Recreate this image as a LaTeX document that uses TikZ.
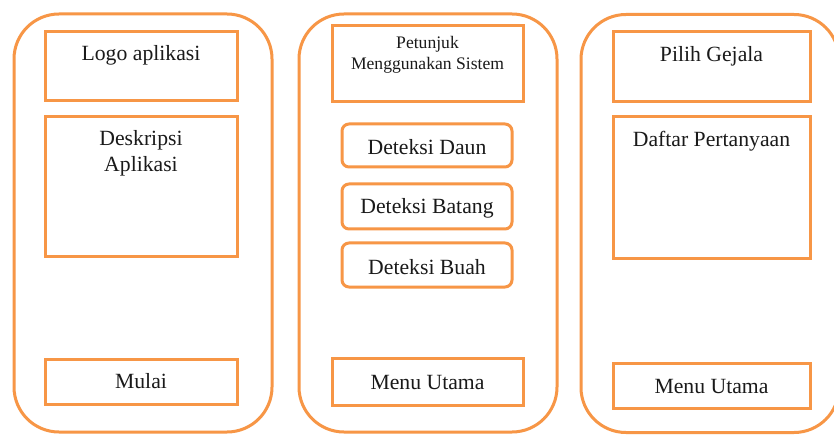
\documentclass[tikz,border=0pt]{standalone}
\usepackage{fontspec}
\setmainfont{Liberation Serif}
\definecolor{frameor}{HTML}{F79646}
\definecolor{inkc}{HTML}{1A1A1A}
\begin{document}
\begin{tikzpicture}[x=1pt,y=-1pt,
 phone/.style={draw=frameor, line width=3pt, rounded corners=45pt, inner sep=0pt, minimum width=258pt, minimum height=418pt},
 box/.style={draw=frameor, line width=3pt, inner sep=0pt},
 btn/.style={draw=frameor, line width=3pt, rounded corners=7pt, inner sep=0pt, minimum width=170pt},
 lbl/.style={font=\fontsize{21.7}{27}\selectfont, text=inkc, anchor=base, inner sep=0pt},
 small/.style={font=\fontsize{17.6}{21}\selectfont, text=inkc, anchor=base, inner sep=0pt}]
\useasboundingbox (0,0) rectangle (834,435);
\fill[white] (0,0) rectangle (834,435);
% phone frames
\node[phone] (f1) at (143,223) {};
\node[phone] (f2) at (428,223) {};
\node[phone] (f3) at (710,223.5) {};
% screen 1
\node[box, minimum width=192pt, minimum height=69pt] (logo) at (141,66.5) {};
\node[box, minimum width=192pt, minimum height=140pt] (desk) at (141,187) {};
\node[box, minimum width=192pt, minimum height=45pt] (mulai) at (141,381.5) {};
\node[lbl] (tlogo) at (141,61) {Logo aplikasi};
\node[lbl] (tdesk1) at (141,146) {Deskripsi};
\node[lbl] (tdesk2) at (141,172) {Aplikasi};
\node[lbl] (tmulai) at (141,388) {Mulai};
% screen 2
\node[box, minimum width=191pt, minimum height=76pt] (pet) at (427.5,64) {};
\node[btn, minimum height=43pt] (daun) at (427,145.5) {};
\node[btn, minimum height=45pt] (batang) at (427,206.5) {};
\node[btn, minimum height=44pt] (buah) at (427,265) {};
\node[box, minimum width=191pt, minimum height=47pt] (menu2) at (427.5,381.5) {};
\node[small] (tpet1) at (427.5,49) {Petunjuk};
\node[small] (tpet2) at (427.5,70) {Menggunakan Sistem};
\node[lbl] (tdaun) at (427,155) {Deteksi Daun};
\node[lbl] (tbatang) at (427,214) {Deteksi Batang};
\node[lbl] (tbuah) at (427,275) {Deteksi Buah};
\node[lbl] (tmenu2) at (427.5,389) {Menu Utama};
% screen 3
\node[box, minimum width=197pt, minimum height=70pt] (pilih) at (711.5,67) {};
\node[box, minimum width=197pt, minimum height=142pt] (daftar) at (711.5,188) {};
\node[box, minimum width=197pt, minimum height=45pt] (menu3) at (711.5,385.5) {};
\node[lbl] (tpilih) at (711.5,62) {Pilih Gejala};
\node[lbl] (tdaftar) at (711.5,147) {Daftar Pertanyaan};
\node[lbl] (tmenu3) at (711.5,393) {Menu Utama};
\end{tikzpicture}
\end{document}
